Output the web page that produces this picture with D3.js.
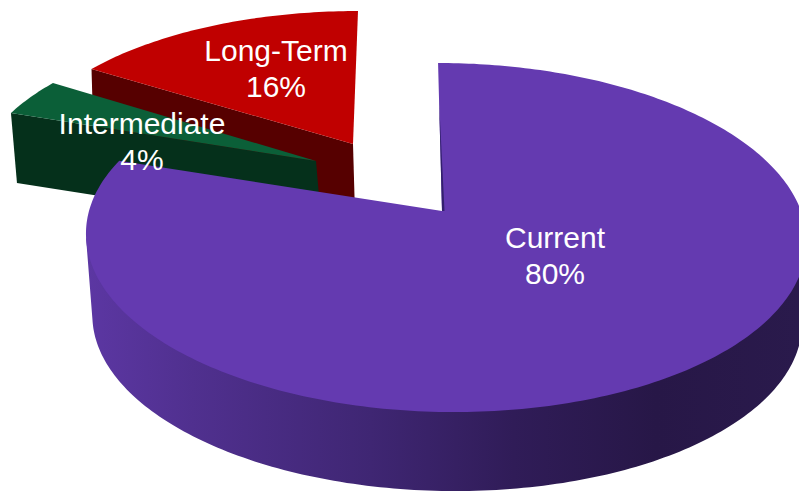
<!DOCTYPE html>
<html><head><meta charset="utf-8">
<script src="https://cdn.jsdelivr.net/npm/d3@7"></script>
<style>html,body{margin:0;background:#fff}svg{display:block}text{font-family:"Liberation Sans",Arial,sans-serif;fill:#fff}</style>
</head><body><svg id="c" width="799" height="491"></svg>
<script>
const categories = ["Current", "Intermediate", "Long-Term"];
const values = [80, 4, 16];
const topColors = ["#643ab0", "#0b5f38", "#c00000"];
const sideColors = ["#3f2673", "#05301b", "#560000"];

// perspective set-up of each exploded slice
const views = [
  {cx:442, cy:211, ox:3, R:356, S:170.5, p:.152, q:-8, dx:1, dy:82, k:.985},
  {cx:316, cy:161, ox:0, R:339.5, S:171, p:.327, q:-42, dx:6, dy:70, k:1},
  {cx:353, cy:144, ox:0, R:333, S:148.8, p:.119, q:5.6, dx:2, dy:70, k:1}
];
const labelPos = [[555,248],[142,134],[276,61]];
const lineGap = 36;

const svg = d3.select("#c");
const defs = svg.append("defs");
const grad = defs.append("linearGradient").attr("id","side").attr("gradientUnits","userSpaceOnUse")
  .attr("x1",85).attr("x2",799).attr("y1",0).attr("y2",0);
[[0,"#5c37a3"],[.15,"#50308f"],[.4,"#3f2673"],[.6,"#301c58"],[.8,"#271747"],[1,"#2a1a4c"]]
  .forEach(([o,c])=>grad.append("stop").attr("offset",o).attr("stop-color",c));

const pie = d3.pie().sort(null).value(d=>d)(values);
const proj = (v,a,lower=false)=>{
  const X=Math.sin(a),Y=Math.cos(a),d=1+v.p*Y,k=lower?v.k:1;
  return [v.cx+v.ox+(lower?v.dx:0)+k*(v.R*X+v.q*Y)/d, v.cy+(lower?v.dy:0)-k*v.S*Y/d];
};
const apex=(v,lower=false)=>[v.cx+(lower?v.dx:0), v.cy+(lower?v.dy:0)];
const line=d3.line();
const rim=(v,a0,a1,lower=false)=>{
  const n=Math.max(2,Math.ceil(Math.abs(a1-a0)*60));
  return d3.range(n+1).map(i=>proj(v,a0+(a1-a0)*i/n,lower));
};
const gMarks=svg.append("g");
// draw back to front: long-term, intermediate, current
[2,1,0].forEach(i=>{
  const s=pie[i],v=views[i];
  if(i===0){
    // outer wall, between the two silhouette tangents; its upper edge runs under the top face
    const a0=Math.PI*(99/180),a1=Math.PI*(261/180);
    const pts=[apex(v),proj(v,a0)].concat(rim(v,a0,a1,true).length?[]:[]);
    const wall=[proj(v,a1),apex(v),proj(v,a0)].concat(rim(v,a0,a1,true));
    gMarks.append("path").attr("d",line(wall)+"Z").attr("fill","url(#side)");
  } else {
    // cut face on the near side of the slice
    const o=proj(v,s.startAngle),ol=proj(v,s.startAngle,true);
    gMarks.append("path").attr("d",line([o,apex(v),apex(v,true),ol])+"Z").attr("fill",sideColors[i]);
  }
  const top=[apex(v)].concat(rim(v,s.startAngle,s.endAngle));
  gMarks.append("path").attr("d",line(top)+"Z").attr("fill",topColors[i]);
  if(i===0){
    // thin sliver of the inner wall along the first cut
    const p0=proj(v,s.startAngle),c=apex(v),t=0.25;
    const from=[p0[0]+(c[0]-p0[0])*t,p0[1]+(c[1]-p0[1])*t];
    gMarks.append("path").attr("d",line([from,[c[0],c[1]],[c[0]+2.5,c[1]]])+"Z").attr("fill","#33206e");
  }
});
const gText=svg.append("g").attr("text-anchor","middle").attr("font-size",30);
categories.forEach((c,i)=>{
  gText.append("text").attr("x",labelPos[i][0]).attr("y",labelPos[i][1]).text(c);
  gText.append("text").attr("x",labelPos[i][0]).attr("y",labelPos[i][1]+lineGap).text(values[i]+"%");
});
</script></body></html>
